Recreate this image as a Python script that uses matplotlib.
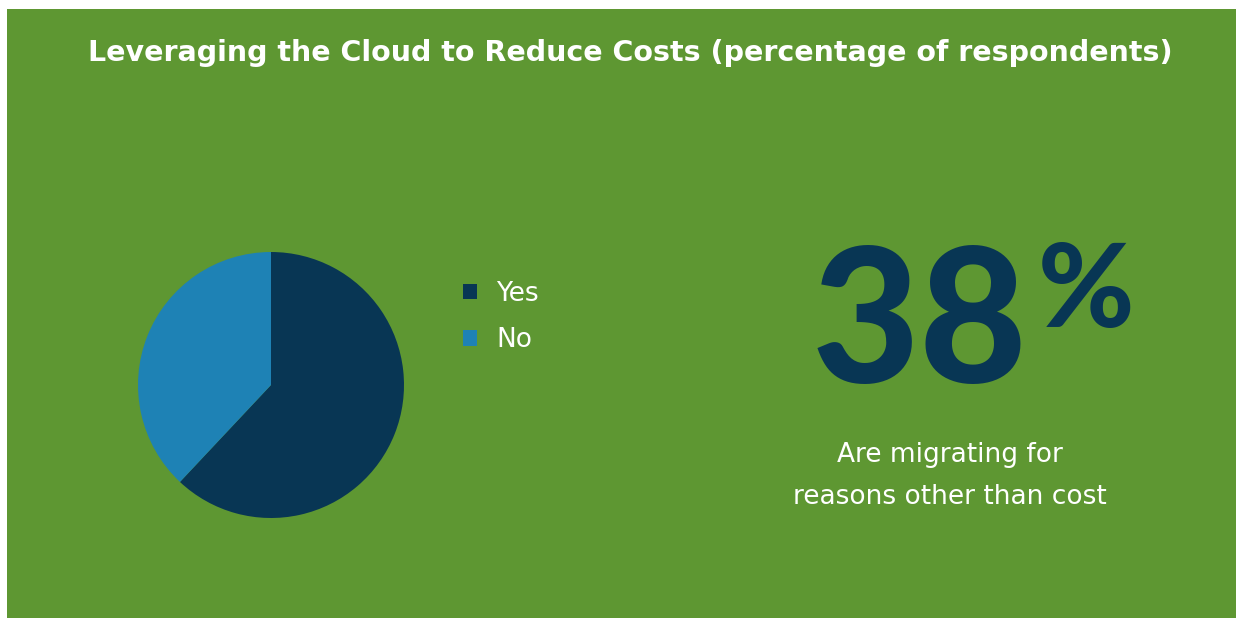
import matplotlib
matplotlib.use('Agg')
import matplotlib.pyplot as plt
from matplotlib.patches import Rectangle

# data
labels = ['Yes', 'No']
shares = [62, 38]
colors = ['#083654', '#1e82b5']
headline = '38'
caption = ['Are migrating for', 'reasons other than cost']
title = 'Leveraging the Cloud to Reduce Costs (percentage of respondents)'

W, H = 1236, 618
green = '#5e9732'
txt_font = ['DejaVu Sans']

fig = plt.figure(figsize=(W / 100, H / 100), dpi=100, facecolor='white')
fig.add_artist(Rectangle((7 / W, 0), 1 - 7 / W, 1 - 9 / H,
                         transform=fig.transFigure, facecolor=green,
                         edgecolor='none', zorder=-10))

# pie, centre (271, 385) px, radius 133 px
cx, cy, r = 271, 385, 133
ax = fig.add_axes([(cx - r) / W, (H - cy - r) / H, 2 * r / W, 2 * r / H])
ax.patch.set_visible(False)
wedges, _ = ax.pie(shares, colors=colors, startangle=90, counterclock=False,
                   radius=1, wedgeprops=dict(linewidth=0))
ax.set_xlim(-1, 1)
ax.set_ylim(-1, 1)
ax.set_aspect('equal')
ax.axis('off')

fig.legend(wedges, labels, loc='upper left',
           bbox_to_anchor=(439 / W, 1 - 257 / H), frameon=False,
           prop=dict(family=txt_font, size=19), labelcolor='white',
           handlelength=0.53, handleheight=0.53, handletextpad=0.75,
           labelspacing=0.78)

fig.text(630 / W, 1 - 53 / H, title, color='white', fontsize=20.5,
         family=txt_font, fontweight='bold', ha='center', va='center')

fig.text(1028 / W, 1 - 383 / H, headline, color='#083654', fontsize=134,
         family=['Lato'], fontweight='black', ha='right', va='baseline')
fig.text(1038 / W, 1 - 327 / H, '%', color='#083654', fontsize=84,
         family=['Lato'], fontweight='black', ha='left', va='baseline')

for i, line in enumerate(caption):
    fig.text(950 / W, 1 - (455 + 42 * i) / H, line, color='white',
             fontsize=19, family=txt_font, ha='center', va='center')

fig.savefig('out.png', dpi=100, facecolor='white')
